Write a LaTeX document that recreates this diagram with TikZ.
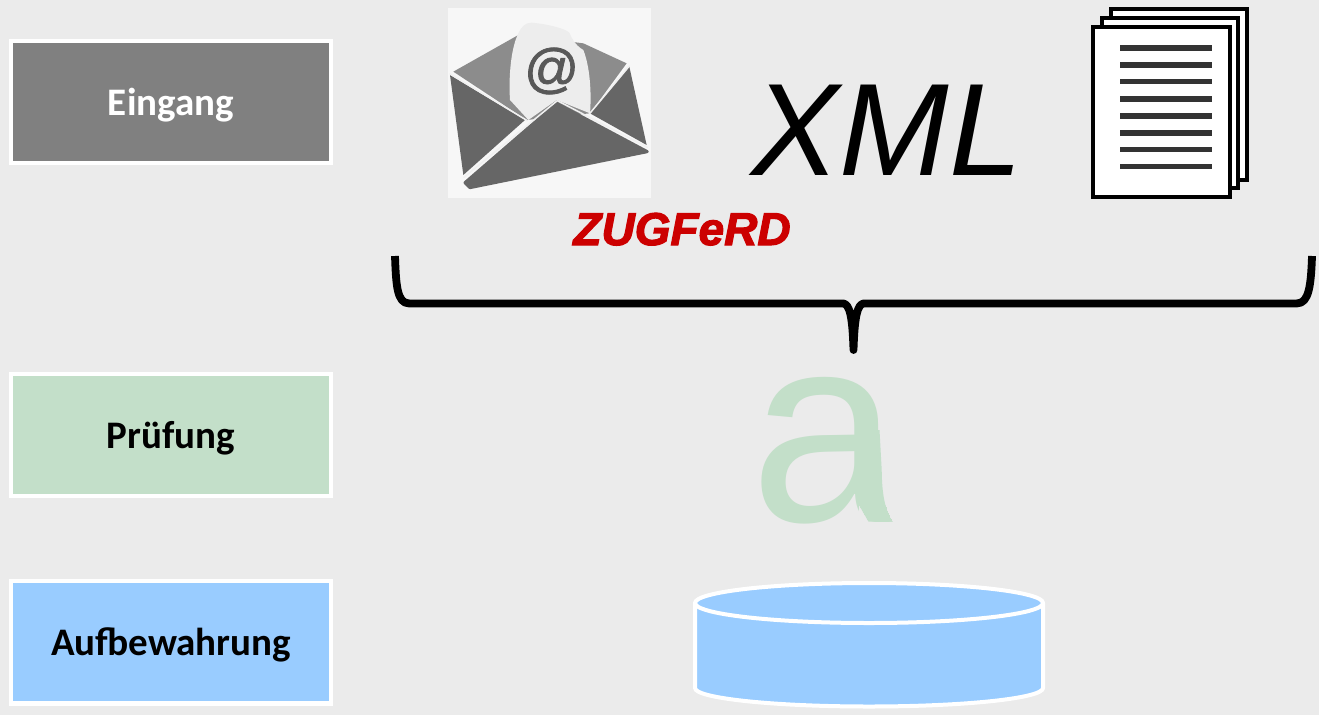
\documentclass[tikz,border=0pt]{standalone}
\usepackage{fontspec}
\setmainfont{Carlito}
\newfontfamily\arialish{Liberation Sans}
\newfontfamily\zugfont[FakeBold=2.5]{Liberation Sans}
\newfontfamily\atfont[FakeBold=1.5]{Liberation Sans}
\definecolor{bgc}{HTML}{EBEBEB}
\definecolor{greyc}{HTML}{808080}
\definecolor{greenc}{HTML}{C3DFC9}
\definecolor{bluec}{HTML}{99CCFF}
\definecolor{redc}{HTML}{CC0000}
\definecolor{linec}{HTML}{333333}
\tikzset{
  stagebox/.style={draw=white,line width=4.3pt,minimum width=319.4pt,minimum height=122pt,inner sep=0pt,text height=30pt,text depth=3pt,font=\fontsize{39}{44}\selectfont\bfseries},
  sheet/.style={draw=black,fill=white,line width=4pt,minimum width=137pt,minimum height=170pt,inner sep=0pt},
  textline/.style={draw=linec,line width=5.4pt},
  envline/.style={draw=black!6,line width=1.5pt,line cap=round,line join=round},
}
\begin{document}
\begin{tikzpicture}[x=1pt,y=-1pt]
\useasboundingbox (0,0) rectangle (1319,715);
\fill[bgc] (0,0) rectangle (1319,715);
% stage boxes
\node[stagebox,fill=greyc,text=white] (eingang) at (171,102.3) {Eingang};
\node[stagebox,fill=greenc,text=black] (pruefung) at (171,435) {Prüfung};
\node[stagebox,fill=bluec,text=black,minimum height=122.5pt] (aufbewahrung) at (171,642.2) {Aufbewahrung};
% envelope
\fill[black!3] (448,8) rectangle (651,198);
\begin{scope}[shift={(440,0)},x=0.3333pt,y=-0.3333pt]
  \fill[black!45] (40,215) -- (235,105) -- (430,130) -- (560,190) -- (450,340) -- (260,360) -- cycle;
  \fill[black!7] (210,300) .. controls (205,220) and (215,140) .. (235,100)
     .. controls (245,80) and (255,68) .. (275,68)
     .. controls (320,72) and (375,85) .. (388,98)
     .. controls (395,115) and (405,135) .. (430,150)
     .. controls (450,200) and (455,280) .. (450,340)
     -- (350,300) -- (265,360) -- cycle;
  \fill[black!60] (30,225) -- (255,360) -- (70,525) -- cycle;
  \fill[black!60] (568,200) -- (620,435) -- (450,340) -- cycle;
  \fill[black!60,draw=black!60,line width=3pt,line join=round] (350,310) -- (622,455) -- (90,563) -- (75,548) -- cycle;
  \draw[envline] (30,222) -- (262,362);
  \draw[envline] (72,532) -- (352,302) -- (622,442);
  \draw[envline] (568,198) -- (448,342);
  \node[font=\atfont\fontsize{54}{54}\selectfont,text=black!65,inner sep=0pt] (at) at (335,213) {@};
\end{scope}
% XML
\node[font=\arialish\itshape\fontsize{131.5}{131.5}\selectfont,text=black,inner sep=0pt,anchor=base] (xml) at (887,175) {XML};
% ZUGFeRD
\node[font=\zugfont\bfseries\itshape\fontsize{46}{46}\selectfont,text=redc,inner sep=0pt,anchor=base] (zugferd) at (682,245) {ZUGFeRD};
% sheets
\node[sheet,minimum width=136.5pt,minimum height=171pt] (sheetc) at (1178.8,94.6) {};
\node[sheet,minimum width=136.5pt,minimum height=170pt] (sheetb) at (1170.2,103.4) {};
\node[sheet] (sheeta) at (1161.5,112.2) {};
\foreach \yy in {48,65,81.3,99,116,133,149.7,166.3}{
  \draw[textline] (1120,\yy) -- (1212,\yy);
}
% brace
\coordinate (bl) at (395,256);
\coordinate (br) at (1312,256);
\coordinate (bt) at (853.5,350);
\draw[line width=7.8pt,line join=round] (bl)
  .. controls (396,285) and (397,303.4) .. (409,303.4)
  -- (843,303.4)
  .. controls (850,304) and (852.5,318) .. (bt)
  .. controls (854.5,318) and (857,304) .. (864,303.4)
  -- (1297,303.4)
  .. controls (1309,303.4) and (1311,285) .. (br);
% a
\begin{scope}
  \clip (740,360) -- (881.7,360) -- (881.7,470) .. controls (882,495) and (885,510) .. (892.5,521.7) -- (868.5,521.7) -- (859,505) -- (854,535) -- (740,535) -- cycle;
  \node[font=\arialish\fontsize{268}{268}\selectfont,text=greenc,inner sep=0pt,anchor=base] (aglyph) at (825,521.7) {a};
\end{scope}
\fill[greenc] (858,430) -- (879.5,430) -- (881.7,470) .. controls (882,495) and (885,510) .. (892.5,521.7) -- (868.5,521.7) -- (859,505) -- cycle;
% cylinder
\draw[draw=white,fill=bluec,line width=4pt] (695,603) -- (695,688)
  arc[start angle=180,end angle=360,x radius=174pt,y radius=18.5pt]
  -- (1043,603) arc[start angle=0,end angle=180,x radius=174pt,y radius=20pt] -- cycle;
\draw[draw=white,line width=4pt] (695,603) arc[start angle=180,end angle=360,x radius=174pt,y radius=20pt];
\end{tikzpicture}
\end{document}
